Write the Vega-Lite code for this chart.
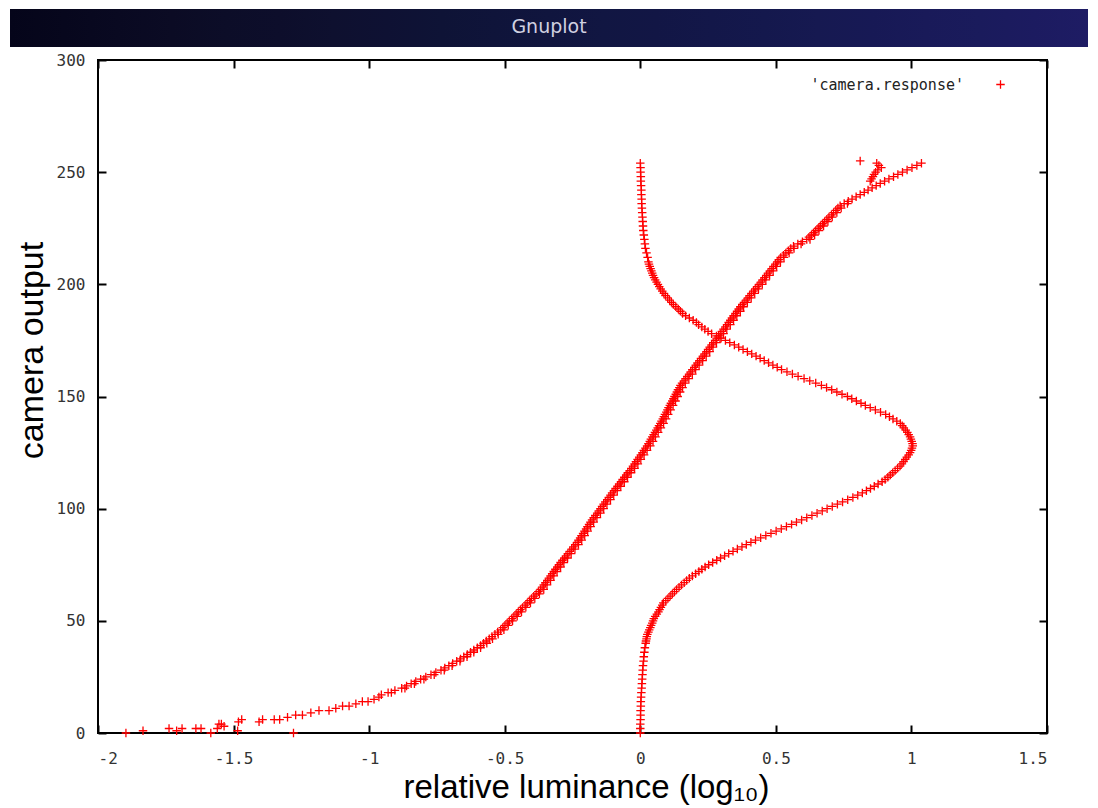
{
"$schema": "https://vega.github.io/schema/vega-lite/v6.json",
"autosize": "none",
"width": 949,
"height": 673,
"padding": {"left": 98, "top": 60, "right": 51, "bottom": 75},
"background": "#ffffff",
"config": {
  "font": "Liberation Sans",
  "view": {"stroke": "#000000", "strokeWidth": 2},
  "axis": {"grid": false, "domain": false, "tickColor": "#000000", "tickWidth": 2, "tickSize": -8, "labelFont": "DejaVu Sans Mono", "labelFontSize": 16, "labelColor": "#333333", "titleFont": "Liberation Sans", "titleFontSize": 34, "titleFontWeight": "normal", "titleColor": "#000000"}
},
"data": {"values": [
{"x":-1.897,"y":0},{"x":-1.834,"y":1},{"x":-1.738,"y":2},{"x":-1.71,"y":1},{"x":-1.69,"y":2},{"x":-1.639,"y":2},{"x":-1.62,"y":2},{"x":-1.584,"y":0},{"x":-1.56,"y":2},{"x":-1.554,"y":4},{"x":-1.545,"y":4},{"x":-1.535,"y":3},{"x":-1.485,"y":1},{"x":-1.482,"y":5},{"x":-1.47,"y":6},{"x":-1.406,"y":5},{"x":-1.393,"y":6},{"x":-1.35,"y":6},{"x":-1.33,"y":6},{"x":-1.301,"y":7},{"x":-1.279,"y":0},{"x":-1.271,"y":8},{"x":-1.246,"y":8},{"x":-1.215,"y":9},{"x":-1.185,"y":10},{"x":-1.148,"y":10},{"x":-1.123,"y":11},{"x":-1.098,"y":12},{"x":-1.074,"y":12},{"x":-1.049,"y":13},{"x":-1.025,"y":14},{"x":-1.004,"y":14},{"x":-0.982,"y":15},{"x":-0.964,"y":16},
{"x":-0.955,"y":17},{"x":-0.930,"y":18},{"x":-0.905,"y":19},{"x":-0.880,"y":20},{"x":-0.862,"y":21},{"x":-0.845,"y":22},{"x":-0.828,"y":23},{"x":-0.810,"y":24},{"x":-0.791,"y":25},{"x":-0.772,"y":26},{"x":-0.754,"y":27},{"x":-0.735,"y":28},{"x":-0.721,"y":29},{"x":-0.706,"y":30},{"x":-0.692,"y":31},{"x":-0.677,"y":32},{"x":-0.663,"y":33},{"x":-0.651,"y":34},{"x":-0.638,"y":35},{"x":-0.626,"y":36},{"x":-0.614,"y":37},{"x":-0.601,"y":38},{"x":-0.589,"y":39},{"x":-0.578,"y":40},{"x":-0.568,"y":41},{"x":-0.557,"y":42},{"x":-0.547,"y":43},{"x":-0.536,"y":44},{"x":-0.526,"y":45},{"x":-0.515,"y":46},{"x":-0.507,"y":47},{"x":-0.499,"y":48},{"x":-0.491,"y":49},{"x":-0.483,"y":50},{"x":-0.474,"y":51},{"x":-0.466,"y":52},{"x":-0.458,"y":53},{"x":-0.450,"y":54},{"x":-0.442,"y":55},{"x":-0.434,"y":56},{"x":-0.425,"y":57},{"x":-0.417,"y":58},{"x":-0.409,"y":59},{"x":-0.401,"y":60},{"x":-0.393,"y":61},{"x":-0.384,"y":62},{"x":-0.376,"y":63},{"x":-0.368,"y":64},{"x":-0.362,"y":65},{"x":-0.356,"y":66},{"x":-0.350,"y":67},{"x":-0.343,"y":68},{"x":-0.337,"y":69},{"x":-0.331,"y":70},{"x":-0.325,"y":71},{"x":-0.319,"y":72},{"x":-0.313,"y":73},{"x":-0.306,"y":74},{"x":-0.300,"y":75},{"x":-0.294,"y":76},{"x":-0.287,"y":77},{"x":-0.280,"y":78},{"x":-0.274,"y":79},{"x":-0.267,"y":80},{"x":-0.260,"y":81},{"x":-0.253,"y":82},{"x":-0.247,"y":83},{"x":-0.240,"y":84},{"x":-0.233,"y":85},{"x":-0.228,"y":86},{"x":-0.222,"y":87},{"x":-0.217,"y":88},{"x":-0.211,"y":89},{"x":-0.206,"y":90},{"x":-0.200,"y":91},{"x":-0.195,"y":92},{"x":-0.189,"y":93},{"x":-0.184,"y":94},{"x":-0.178,"y":95},{"x":-0.172,"y":96},{"x":-0.166,"y":97},{"x":-0.159,"y":98},{"x":-0.153,"y":99},{"x":-0.147,"y":100},{"x":-0.141,"y":101},{"x":-0.135,"y":102},{"x":-0.129,"y":103},{"x":-0.122,"y":104},{"x":-0.116,"y":105},{"x":-0.110,"y":106},{"x":-0.104,"y":107},{"x":-0.097,"y":108},{"x":-0.091,"y":109},{"x":-0.084,"y":110},{"x":-0.078,"y":111},{"x":-0.071,"y":112},{"x":-0.065,"y":113},{"x":-0.059,"y":114},{"x":-0.052,"y":115},{"x":-0.046,"y":116},{"x":-0.039,"y":117},{"x":-0.033,"y":118},{"x":-0.027,"y":119},{"x":-0.021,"y":120},{"x":-0.016,"y":121},{"x":-0.010,"y":122},{"x":-0.004,"y":123},{"x":0.002,"y":124},{"x":0.008,"y":125},{"x":0.013,"y":126},{"x":0.019,"y":127},{"x":0.025,"y":128},{"x":0.030,"y":129},{"x":0.035,"y":130},{"x":0.039,"y":131},{"x":0.044,"y":132},{"x":0.049,"y":133},{"x":0.054,"y":134},{"x":0.059,"y":135},{"x":0.064,"y":136},{"x":0.069,"y":137},{"x":0.074,"y":138},{"x":0.078,"y":139},{"x":0.083,"y":140},{"x":0.087,"y":141},{"x":0.091,"y":142},{"x":0.096,"y":143},{"x":0.100,"y":144},{"x":0.104,"y":145},{"x":0.109,"y":146},{"x":0.113,"y":147},{"x":0.118,"y":148},{"x":0.122,"y":149},{"x":0.126,"y":150},{"x":0.131,"y":151},{"x":0.135,"y":152},{"x":0.139,"y":153},{"x":0.144,"y":154},{"x":0.148,"y":155},{"x":0.154,"y":156},{"x":0.161,"y":157},{"x":0.167,"y":158},{"x":0.173,"y":159},{"x":0.180,"y":160},{"x":0.186,"y":161},{"x":0.192,"y":162},{"x":0.199,"y":163},{"x":0.205,"y":164},{"x":0.211,"y":165},{"x":0.218,"y":166},{"x":0.224,"y":167},{"x":0.231,"y":168},{"x":0.237,"y":169},{"x":0.244,"y":170},{"x":0.250,"y":171},{"x":0.256,"y":172},{"x":0.263,"y":173},{"x":0.269,"y":174},{"x":0.276,"y":175},{"x":0.282,"y":176},{"x":0.289,"y":177},{"x":0.295,"y":178},{"x":0.301,"y":179},{"x":0.307,"y":180},{"x":0.314,"y":181},{"x":0.320,"y":182},{"x":0.326,"y":183},{"x":0.332,"y":184},{"x":0.338,"y":185},{"x":0.344,"y":186},{"x":0.351,"y":187},{"x":0.357,"y":188},{"x":0.363,"y":189},{"x":0.369,"y":190},{"x":0.376,"y":191},{"x":0.383,"y":192},{"x":0.390,"y":193},{"x":0.397,"y":194},{"x":0.403,"y":195},{"x":0.410,"y":196},{"x":0.417,"y":197},{"x":0.424,"y":198},{"x":0.431,"y":199},{"x":0.438,"y":200},{"x":0.445,"y":201},{"x":0.451,"y":202},{"x":0.458,"y":203},{"x":0.465,"y":204},{"x":0.471,"y":205},{"x":0.478,"y":206},{"x":0.485,"y":207},{"x":0.491,"y":208},{"x":0.498,"y":209},{"x":0.505,"y":210},{"x":0.511,"y":211},{"x":0.518,"y":212},{"x":0.528,"y":213},{"x":0.537,"y":214},{"x":0.546,"y":215},{"x":0.555,"y":216},{"x":0.565,"y":217},{"x":0.581,"y":218},{"x":0.598,"y":219},{"x":0.614,"y":220},{"x":0.622,"y":221},{"x":0.631,"y":222},{"x":0.639,"y":223},{"x":0.647,"y":224},{"x":0.656,"y":225},{"x":0.664,"y":226},{"x":0.672,"y":227},{"x":0.680,"y":228},{"x":0.688,"y":229},{"x":0.696,"y":230},{"x":0.705,"y":231},{"x":0.713,"y":232},{"x":0.721,"y":233},{"x":0.729,"y":234},{"x":0.737,"y":235},{"x":0.752,"y":236},{"x":0.767,"y":237},{"x":0.781,"y":238},{"x":0.796,"y":239},{"x":0.811,"y":240},{"x":0.826,"y":241},{"x":0.840,"y":242},{"x":0.855,"y":243},{"x":0.870,"y":244},{"x":0.885,"y":245},{"x":0.901,"y":246},{"x":0.917,"y":247},{"x":0.934,"y":248},{"x":0.950,"y":249},{"x":0.967,"y":250},{"x":0.984,"y":251},{"x":1.002,"y":252},{"x":1.020,"y":253},{"x":1.037,"y":254},
{"x":-0.918,"y":18},{"x":-0.868,"y":20},{"x":-0.833,"y":22},{"x":-0.798,"y":24},{"x":-0.760,"y":26},{"x":-0.723,"y":28},{"x":-0.694,"y":30},{"x":-0.665,"y":32},{"x":-0.639,"y":34},{"x":-0.614,"y":36},{"x":-0.589,"y":38},{"x":-0.566,"y":40},{"x":-0.545,"y":42},{"x":-0.524,"y":44},{"x":-0.503,"y":46},{"x":-0.487,"y":48},{"x":-0.471,"y":50},{"x":-0.454,"y":52},{"x":-0.438,"y":54},{"x":-0.422,"y":56},{"x":-0.405,"y":58},{"x":-0.389,"y":60},{"x":-0.372,"y":62},{"x":-0.356,"y":64},{"x":-0.344,"y":66},{"x":-0.331,"y":68},{"x":-0.319,"y":70},{"x":-0.307,"y":72},{"x":-0.294,"y":74},{"x":-0.282,"y":76},{"x":-0.268,"y":78},{"x":-0.255,"y":80},{"x":-0.241,"y":82},{"x":-0.228,"y":84},{"x":-0.216,"y":86},{"x":-0.205,"y":88},{"x":-0.194,"y":90},{"x":-0.183,"y":92},{"x":-0.172,"y":94},{"x":-0.160,"y":96},{"x":-0.147,"y":98},{"x":-0.135,"y":100},{"x":-0.123,"y":102},{"x":-0.110,"y":104},{"x":-0.098,"y":106},{"x":-0.085,"y":108},{"x":-0.072,"y":110},{"x":-0.059,"y":112},{"x":-0.047,"y":114},{"x":-0.034,"y":116},{"x":-0.021,"y":118},{"x":-0.009,"y":120},{"x":0.002,"y":122},{"x":0.014,"y":124},{"x":0.025,"y":126},{"x":0.037,"y":128},{"x":0.047,"y":130},{"x":0.056,"y":132},{"x":0.066,"y":134},{"x":0.076,"y":136},{"x":0.086,"y":138},{"x":0.095,"y":140},{"x":0.103,"y":142},{"x":0.112,"y":144},{"x":0.121,"y":146},{"x":0.130,"y":148},{"x":0.138,"y":150},{"x":0.147,"y":152},{"x":0.156,"y":154},{"x":0.166,"y":156},{"x":0.179,"y":158},{"x":0.192,"y":160},{"x":0.204,"y":162},{"x":0.217,"y":164},{"x":0.230,"y":166},{"x":0.243,"y":168},{"x":0.256,"y":170},{"x":0.268,"y":172},{"x":0.281,"y":174},{"x":0.294,"y":176},{"x":0.307,"y":178},{"x":0.319,"y":180},{"x":0.332,"y":182},{"x":0.344,"y":184},{"x":0.356,"y":186},{"x":0.369,"y":188},{"x":0.381,"y":190},{"x":0.395,"y":192},{"x":0.409,"y":194},{"x":0.422,"y":196},{"x":0.436,"y":198},{"x":0.450,"y":200},{"x":0.463,"y":202},{"x":0.477,"y":204},{"x":0.490,"y":206},{"x":0.503,"y":208},{"x":0.517,"y":210},{"x":0.530,"y":212},{"x":0.549,"y":214},{"x":0.567,"y":216},{"x":0.593,"y":218},{"x":0.626,"y":220},{"x":0.643,"y":222},{"x":0.659,"y":224},{"x":0.676,"y":226},{"x":0.692,"y":228},{"x":0.708,"y":230},{"x":0.725,"y":232},{"x":0.741,"y":234},{"x":0.764,"y":236},
{"x":0.848,"y":246},{"x":0.853,"y":247},{"x":0.858,"y":248},{"x":0.862,"y":249},{"x":0.868,"y":250},{"x":0.876,"y":251},{"x":0.889,"y":252},{"x":0.880,"y":253},{"x":0.872,"y":254},{"x":0.811,"y":255},
{"x":0,"y":0},{"x":0,"y":2},{"x":0,"y":4},{"x":0.001,"y":6},{"x":0.001,"y":8},{"x":0.001,"y":10},{"x":0.002,"y":12},{"x":0.002,"y":14},{"x":0.003,"y":16},{"x":0.004,"y":18},{"x":0.005,"y":20},{"x":0.006,"y":22},{"x":0.007,"y":24},{"x":0.008,"y":26},{"x":0.009,"y":28},{"x":0.010,"y":30},{"x":0.012,"y":32},{"x":0.013,"y":34},{"x":0.015,"y":36},{"x":0.017,"y":38},
{"x":0.020,"y":40},{"x":0.021,"y":41},{"x":0.023,"y":42},{"x":0.024,"y":43},{"x":0.026,"y":44},{"x":0.030,"y":45},{"x":0.033,"y":46},{"x":0.037,"y":47},{"x":0.040,"y":48},{"x":0.044,"y":49},{"x":0.047,"y":50},{"x":0.050,"y":51},{"x":0.055,"y":52},{"x":0.061,"y":53},{"x":0.067,"y":54},{"x":0.071,"y":55},{"x":0.076,"y":56},{"x":0.081,"y":57},{"x":0.085,"y":58},{"x":0.094,"y":59},{"x":0.102,"y":60},{"x":0.110,"y":61},{"x":0.118,"y":62},{"x":0.126,"y":63},{"x":0.134,"y":64},{"x":0.143,"y":65},{"x":0.152,"y":66},{"x":0.162,"y":67},{"x":0.171,"y":68},{"x":0.181,"y":69},{"x":0.192,"y":70},{"x":0.204,"y":71},{"x":0.216,"y":72},{"x":0.227,"y":73},{"x":0.239,"y":74},{"x":0.252,"y":75},{"x":0.267,"y":76},{"x":0.282,"y":77},{"x":0.296,"y":78},{"x":0.311,"y":79},{"x":0.326,"y":80},{"x":0.342,"y":81},{"x":0.358,"y":82},{"x":0.375,"y":83},{"x":0.391,"y":84},{"x":0.408,"y":85},{"x":0.425,"y":86},{"x":0.444,"y":87},{"x":0.463,"y":88},{"x":0.482,"y":89},{"x":0.501,"y":90},{"x":0.520,"y":91},{"x":0.539,"y":92},{"x":0.558,"y":93},{"x":0.576,"y":94},{"x":0.595,"y":95},{"x":0.614,"y":96},{"x":0.633,"y":97},{"x":0.652,"y":98},{"x":0.671,"y":99},{"x":0.689,"y":100},{"x":0.708,"y":101},{"x":0.727,"y":102},{"x":0.746,"y":103},{"x":0.765,"y":104},{"x":0.784,"y":105},{"x":0.802,"y":106},{"x":0.819,"y":107},{"x":0.834,"y":108},{"x":0.849,"y":109},{"x":0.863,"y":110},{"x":0.877,"y":111},{"x":0.892,"y":112},{"x":0.903,"y":113},{"x":0.913,"y":114},{"x":0.922,"y":115},{"x":0.931,"y":116},{"x":0.940,"y":117},{"x":0.949,"y":118},{"x":0.958,"y":119},{"x":0.965,"y":120},{"x":0.971,"y":121},{"x":0.977,"y":122},{"x":0.983,"y":123},{"x":0.990,"y":124},{"x":0.995,"y":125},{"x":0.999,"y":126},{"x":1.002,"y":127},{"x":1.005,"y":128},{"x":1.004,"y":129},{"x":1.001,"y":130},{"x":0.998,"y":131},{"x":0.995,"y":132},{"x":0.990,"y":133},{"x":0.985,"y":134},{"x":0.979,"y":135},{"x":0.972,"y":136},{"x":0.966,"y":137},{"x":0.959,"y":138},{"x":0.946,"y":139},{"x":0.932,"y":140},{"x":0.919,"y":141},{"x":0.905,"y":142},{"x":0.886,"y":143},{"x":0.867,"y":144},{"x":0.848,"y":145},{"x":0.830,"y":146},{"x":0.814,"y":147},{"x":0.797,"y":148},{"x":0.780,"y":149},{"x":0.764,"y":150},{"x":0.744,"y":151},{"x":0.725,"y":152},{"x":0.706,"y":153},{"x":0.687,"y":154},{"x":0.668,"y":155},{"x":0.647,"y":156},{"x":0.625,"y":157},{"x":0.604,"y":158},{"x":0.582,"y":159},{"x":0.561,"y":160},{"x":0.541,"y":161},{"x":0.521,"y":162},{"x":0.505,"y":163},{"x":0.489,"y":164},{"x":0.473,"y":165},{"x":0.457,"y":166},{"x":0.442,"y":167},{"x":0.427,"y":168},{"x":0.411,"y":169},{"x":0.395,"y":170},{"x":0.379,"y":171},{"x":0.363,"y":172},{"x":0.347,"y":173},{"x":0.330,"y":174},{"x":0.314,"y":175},{"x":0.298,"y":176},{"x":0.281,"y":177},{"x":0.263,"y":178},{"x":0.250,"y":179},{"x":0.238,"y":180},{"x":0.227,"y":181},{"x":0.215,"y":182},{"x":0.207,"y":183},{"x":0.195,"y":184},{"x":0.181,"y":185},{"x":0.167,"y":186},{"x":0.156,"y":187},{"x":0.148,"y":188},{"x":0.140,"y":189},{"x":0.131,"y":190},{"x":0.122,"y":191},{"x":0.115,"y":192},{"x":0.108,"y":193},{"x":0.101,"y":194},{"x":0.093,"y":195},{"x":0.087,"y":196},{"x":0.081,"y":197},{"x":0.075,"y":198},{"x":0.070,"y":199},{"x":0.065,"y":200},{"x":0.060,"y":201},{"x":0.055,"y":202},{"x":0.051,"y":203},{"x":0.047,"y":204},{"x":0.044,"y":205},{"x":0.041,"y":206},{"x":0.038,"y":207},{"x":0.035,"y":208},{"x":0.032,"y":209},{"x":0.030,"y":210},
{"x":0.027,"y":212},{"x":0.023,"y":214},{"x":0.019,"y":216},{"x":0.017,"y":218},{"x":0.015,"y":220},{"x":0.013,"y":222},{"x":0.011,"y":224},{"x":0.010,"y":226},{"x":0.009,"y":228},{"x":0.008,"y":230},{"x":0.007,"y":232},{"x":0.006,"y":234},{"x":0.005,"y":236},{"x":0.005,"y":238},{"x":0.004,"y":240},{"x":0.004,"y":242},{"x":0.003,"y":244},{"x":0.002,"y":246},{"x":0.002,"y":248},{"x":0.001,"y":250},{"x":0.001,"y":252},{"x":0,"y":254}
]},
"layer": [
  {
    "mark": {"type": "point", "shape": "M-1,0L1,0M0,-1L0,1", "filled": false, "strokeWidth": 1.3, "size": 72, "opacity": 1, "clip": false},
    "encoding": {
      "x": {"field": "x", "type": "quantitative", "scale": {"domain": [-2, 1.5], "nice": false, "zero": false},
            "axis": {"orient": "bottom", "values": [-2, -1.5, -1, -0.5, 0, 0.5, 1, 1.5], "labelExpr": "datum.value + ''", "labelPadding": 25, "title": "relative luminance (log₁₀)", "titleFontSize": 33, "titleX": 488, "titleY": 64, "titleBaseline": "alphabetic", "titleAlign": "center"}},
      "y": {"field": "y", "type": "quantitative", "scale": {"domain": [0, 300], "nice": false, "zero": false},
            "axis": {"orient": "left", "values": [0, 50, 100, 150, 200, 250, 300], "labelPadding": 21, "title": "camera output", "titleX": -56, "titleY": 290, "titleBaseline": "alphabetic", "titleAlign": "center", "titleAngle": -90}},
      "color": {"datum": "'camera.response'", "scale": {"range": ["#ff0000"]},
                "legend": {"orient": "none", "legendX": 895, "legendY": 17, "title": null, "padding": 0, "labelFont": "DejaVu Sans Mono", "labelFontSize": 15, "labelColor": "#222222", "labelAlign": "right", "labelOffset": -44, "symbolType": "M-1,0L1,0M0,-1L0,1", "symbolStrokeWidth": 1.3, "symbolSize": 72, "symbolFillColor": "transparent"}}
    }
  },
  {
    "mark": {"type": "point", "opacity": 0},
    "encoding": {
      "x": {"field": "x", "type": "quantitative", "axis": {"orient": "top", "values": [-2, -1.5, -1, -0.5, 0, 0.5, 1, 1.5], "labels": false, "title": null}},
      "y": {"field": "y", "type": "quantitative", "axis": {"orient": "right", "values": [0, 50, 100, 150, 200, 250, 300], "labels": false, "title": null}},
      "fill": {"datum": 0.5, "type": "quantitative", "scale": {"domain": [0, 1], "range": ["#05051a", "#1e1c64"]},
               "legend": {"orient": "none", "legendX": -88, "legendY": -42, "padding": 0, "direction": "horizontal", "gradientLength": 1078, "gradientThickness": 38, "gradientStrokeWidth": 0, "labelOpacity": 0, "labelFontSize": 1, "title": "Gnuplot", "titleAnchor": "middle", "titleOrient": "top", "titlePadding": -28, "titleColor": "#d0d0e0", "titleFont": "DejaVu Sans", "titleFontSize": 19, "titleFontWeight": "normal"}}
    }
  }
],
"resolve": {"axis": {"x": "independent", "y": "independent"}}
}
